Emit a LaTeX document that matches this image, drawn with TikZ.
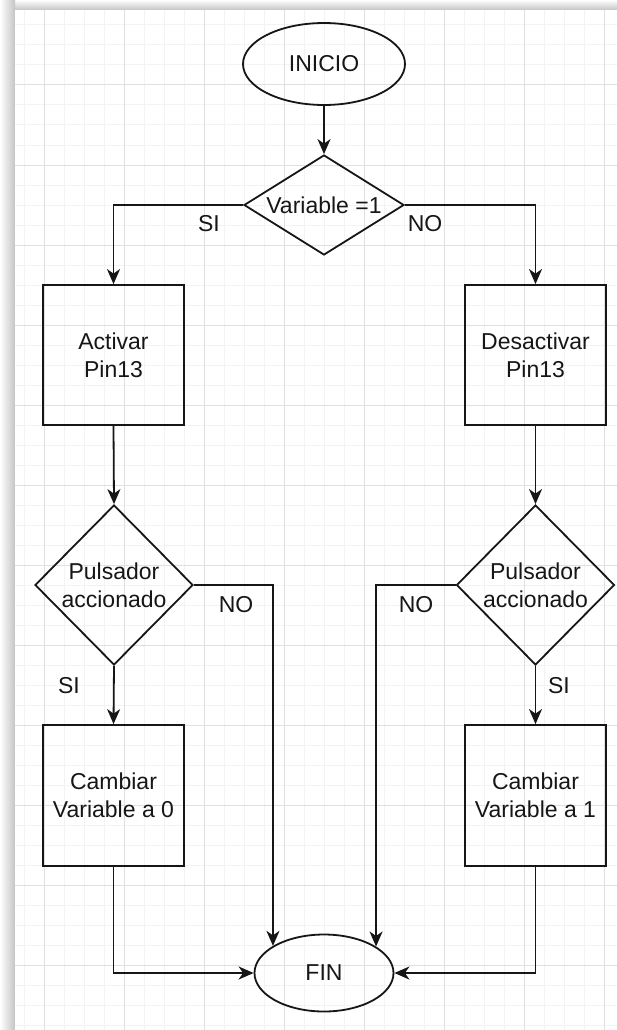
\documentclass[tikz,border=0pt]{standalone}
\usepackage{fontspec}
\setmainfont{Liberation Sans}
\usetikzlibrary{shapes.geometric,arrows.meta}
\definecolor{ink}{HTML}{161616}
\definecolor{gridminor}{HTML}{F3F3F3}
\definecolor{gridmajor}{HTML}{E0E0E0}
\definecolor{shadowgray}{HTML}{C4C4C4}
\begin{document}
\begin{tikzpicture}[x=1pt,y=-1pt,
  every node/.style={font=\fontsize{23}{28}\selectfont, text=ink},
  line/.style={draw=ink, line width=1.8pt},
  flow/.style={line, -{Stealth[length=15pt,width=13pt,inset=4.5pt]}},
  terminal/.style={ellipse, draw=ink, line width=1.8pt, inner sep=0pt},
  process/.style={rectangle, draw=ink, line width=1.8pt, minimum width=141pt, minimum height=140pt, align=center, inner sep=0pt},
  decision/.style={diamond, draw=ink, line width=1.8pt, inner sep=0pt, align=center},
  tag/.style={text height=16.5pt, text depth=0pt, inner sep=0pt}
]
% canvas and page edge shadow
\useasboundingbox (0,0) rectangle (617,1030);
\fill[white] (0,0) rectangle (617,1030);
\shade[top color=white, bottom color=shadowgray] (0,0) rectangle (617,10);
\shade[left color=white, right color=shadowgray] (0,0) rectangle (15,1030);
\fill[white] (15,10) rectangle (617,1030);

% background grid
\begin{scope}
  \clip (15,10) rectangle (617,1030);
  \foreach \gx in {4.5,24.5,...,624.5} \draw[gridminor, line width=1pt] (\gx,10) -- (\gx,1030);
  \foreach \gy in {5,25,...,1045} \draw[gridminor, line width=1pt] (15,\gy) -- (617,\gy);
  \foreach \gx in {44.5,124.5,...,624.5} \draw[gridmajor, line width=1pt] (\gx,10) -- (\gx,1030);
  \foreach \gy in {5,85,...,1045} \draw[gridmajor, line width=1pt] (15,\gy) -- (617,\gy);
\end{scope}

% shapes
\node[terminal, minimum width=162pt, minimum height=82pt] (inicio) at (324,64) {INICIO};
\node[decision, minimum width=160pt, minimum height=100pt, aspect=1.6] (var) at (324,205) {Variable =1};
\node[process] (act) at (113.5,355) {Activar\\Pin13};
\node[process] (des) at (535.5,355) {Desactivar\\Pin13};
\node[decision, minimum width=158pt, minimum height=160pt] (pulsA) at (114,585) {Pulsador\\accionado};
\node[decision, minimum width=158pt, minimum height=160pt] (pulsB) at (535.5,585) {Pulsador\\accionado};
\node[process, minimum height=141pt] (cero) at (113.5,795.5) {Cambiar\\Variable a 0};
\node[process, minimum height=141pt] (uno) at (535.5,795.5) {Cambiar\\Variable a 1};
\node[terminal, minimum width=139pt, minimum height=77pt] (fin) at (324,973) {FIN};

% connectors
\draw[flow] (inicio.south) -- (var.north);
\draw[flow] (var.west) -| (act.north);
\draw[flow] (var.east) -| (des.north);
\draw[flow] (act.south) -- (pulsA.north);
\draw[flow] (des.south) -- (pulsB.north);
\draw[flow] (pulsA.south) -- (cero.north);
\draw[flow] (pulsB.south) -- (uno.north);
\draw[flow] (pulsA.east) -| (fin.152.5);
\draw[flow] (pulsB.west) -| (fin.27.5);
\draw[flow] (cero.south) |- (fin.west);
\draw[flow] (uno.south) |- (fin.east);

% branch labels
\node[tag] (siA) at (209,223) {SI};
\node[tag] (noA) at (425,223) {NO};
\node[tag] (noB) at (236,604) {NO};
\node[tag] (noC) at (416,604) {NO};
\node[tag] (siB) at (69,685) {SI};
\node[tag] (siC) at (559,685) {SI};
\end{tikzpicture}
\end{document}
